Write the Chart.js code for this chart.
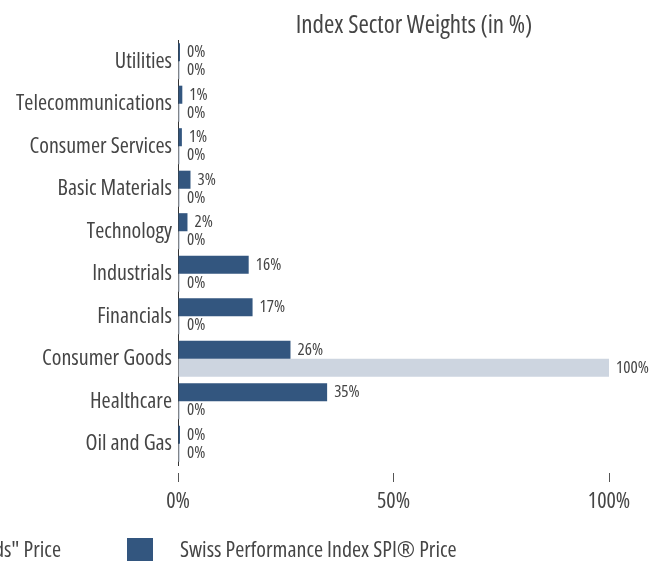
<!DOCTYPE html>
<html>
<head>
<meta charset="utf-8">
<script src="https://cdn.jsdelivr.net/npm/chart.js@4.4.1/dist/chart.umd.min.js"></script>
<style>
  html, body { margin: 0; padding: 0; background: #fff; overflow: hidden; }
  #wrap { position: relative; width: 828px; height: 561px; }
</style>
</head>
<body>
<div id="wrap"><canvas id="chart" width="828" height="561"></canvas></div>
<script>
// Sector breakdown, top to bottom as listed on the axis
const sectors = [
    'Utilities',
    'Telecommunications',
    'Consumer Services',
    'Basic Materials',
    'Technology',
    'Industrials',
    'Financials',
    'Consumer Goods',
    'Healthcare',
    'Oil and Gas',
];

// Weights in % per sector
const spiWeights = [0.4, 1.0, 0.9, 2.9, 2.2, 16.4, 17.3, 26.1, 34.6, 0.2];
const productWeights = [0, 0, 0, 0, 0, 0, 0, 100, 0, 0];

const seriesNames = [
    'Tracker Certificate on "Swiss Consumer Goods" Price',
    'Swiss Performance Index SPI® Price',
];

const xTickValues = [0, 50, 100];
const chartTitle = 'Index Sector Weights (in %)';

const DARK = '#33567f';
const LIGHT = '#cdd5e0';
const TEXT = '#454545';
const FAMILY = "'Open Sans', sans-serif";
const STRETCH = '400 condensed';

Chart.defaults.font.family = FAMILY;
Chart.defaults.font.weight = STRETCH;
Chart.defaults.color = TEXT;

// Title centred on the whole canvas rather than on the plot box
const canvasTitle = {
    id: 'canvasTitle',
    afterDraw(chart) {
        const ctx = chart.ctx;
        ctx.save();
        ctx.font = `${STRETCH} 25px ${FAMILY}`;
        ctx.fillStyle = TEXT;
        ctx.textAlign = 'center';
        ctx.textBaseline = 'alphabetic';
        ctx.fillText(chartTitle, chart.width / 2, 33);
        ctx.restore();
    },
};

// Percent labels printed just past the end of each bar
const valueLabels = {
    id: 'valueLabels',
    afterDatasetsDraw(chart) {
        const ctx = chart.ctx;
        ctx.save();
        ctx.font = `${STRETCH} 17px ${FAMILY}`;
        ctx.fillStyle = TEXT;
        ctx.textAlign = 'left';
        ctx.textBaseline = 'middle';
        chart.data.datasets.forEach((ds, di) => {
            chart.getDatasetMeta(di).data.forEach((bar, i) => {
                ctx.fillText(Math.round(ds.data[i]) + '%', bar.x + 7, bar.y);
            });
        });
        ctx.restore();
    },
};

// Legend row along the bottom edge: square swatch, then the series name
const bottomLegend = {
    id: 'bottomLegend',
    afterDraw(chart) {
        const { ctx, chartArea } = chart;
        const box = 26, textGap = 27, itemGap = 66;
        const order = [1, 0];
        const items = order.map(i => chart.data.datasets[i]);
        const y = chart.height - 10;

        ctx.save();
        ctx.font = `${STRETCH} 22px ${FAMILY}`;
        ctx.textAlign = 'left';
        ctx.textBaseline = 'middle';
        const widths = items.map(ds => ctx.measureText(ds.label).width);

        // last swatch sits a fixed distance left of the plot
        let x = chartArea.left - 51;
        for (let k = items.length - 2; k >= 0; k--) x -= box + textGap + widths[k] + itemGap;

        items.forEach((ds, k) => {
            ctx.fillStyle = ds.backgroundColor;
            ctx.fillRect(x, y - box / 2, box, box);
            ctx.fillStyle = TEXT;
            ctx.fillText(ds.label, x + box + textGap, y);
            x += box + textGap + widths[k] + itemGap;
        });
        ctx.restore();
    },
};

new Chart(document.getElementById('chart'), {
    type: 'bar',
    data: {
        labels: sectors,
        datasets: [
            { label: seriesNames[1], data: spiWeights, backgroundColor: DARK },
            { label: seriesNames[0], data: productWeights, backgroundColor: LIGHT },
        ],
    },
    options: {
        indexAxis: 'y',
        responsive: false,
        animation: false,
        layout: { padding: { left: 0, right: 219, top: 40, bottom: 50 } },
        datasets: {
            bar: { categoryPercentage: 0.85, barPercentage: 1, minBarLength: 2, borderWidth: 0 },
        },
        plugins: {
            legend: { display: false },
            tooltip: { enabled: false },
            title: { display: false },
        },
        scales: {
            x: {
                min: 0,
                max: 100,
                afterBuildTicks: axis => { axis.ticks = xTickValues.map(v => ({ value: v })); },
                ticks: { callback: v => v + '%', padding: 7, font: { size: 22 }, color: TEXT },
                grid: {
                    drawOnChartArea: false,
                    tickLength: 17,
                    tickBorderDash: [0, 8, 9, 60],
                    color: '#555',
                },
                border: { display: false },
                afterFit: s => { s.height = 46; },
            },
            y: {
                ticks: { padding: 6, font: { size: 22 }, color: TEXT },
                grid: { drawOnChartArea: false, drawTicks: false },
                border: { display: true, color: '#333', width: 1 },
                afterFit: s => { s.width = 178; },
            },
        },
    },
    plugins: [valueLabels, bottomLegend, canvasTitle],
});
</script>
</body>
</html>
